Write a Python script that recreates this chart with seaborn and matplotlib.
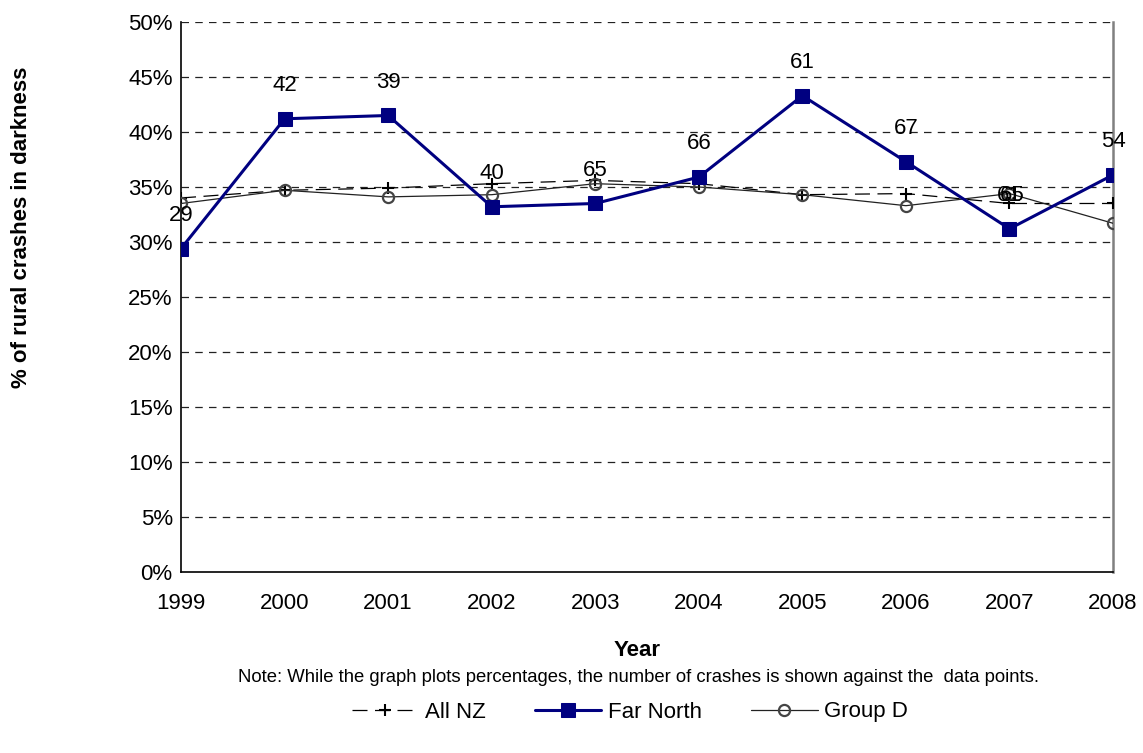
import matplotlib
matplotlib.use("Agg")
import matplotlib.pyplot as plt
import seaborn as sns
import pandas as pd
from matplotlib.ticker import PercentFormatter

years = [1999, 2000, 2001, 2002, 2003, 2004, 2005, 2006, 2007, 2008]
all_nz = [34.0, 34.7, 34.9, 35.3, 35.6, 35.3, 34.3, 34.4, 33.5, 33.5]
far_north = [29.4, 41.2, 41.5, 33.2, 33.5, 35.9, 43.3, 37.3, 31.2, 36.1]
group_d = [33.5, 34.7, 34.1, 34.3, 35.3, 35.0, 34.3, 33.3, 34.4, 31.7]
crash_counts = ["29", "42", "39", "40", "65", "66", "61", "67", "61", "54"]
extra_label_2007 = "65"

sns.set_theme(style="white")
plt.rcParams['font.family'] = ['Liberation Sans', 'DejaVu Sans']
plt.rcParams['text.color'] = 'black'
plt.rcParams['xtick.color'] = 'black'
plt.rcParams['ytick.color'] = 'black'
plt.rcParams['axes.labelcolor'] = 'black'

fig = plt.figure(figsize=(11.43, 7.53), dpi=100)
ax = fig.add_axes([0.1584, 0.2404, 0.8154, 0.7304])

df = pd.DataFrame({"Year": years, "All NZ": all_nz, "Far North": far_north, "Group D": group_d})

sns.lineplot(data=df, x="Year", y="All NZ", ax=ax, color="black", lw=0.9,
             dashes=False, linestyle=(0, (12, 6)), marker="+", markersize=9,
             markeredgewidth=1.5, markeredgecolor="black", label="All NZ", zorder=3)
sns.lineplot(data=df, x="Year", y="Group D", ax=ax, color="#222222", lw=0.9,
             marker="o", markersize=8, markerfacecolor="none",
             markeredgecolor="#444444", markeredgewidth=1.6, label="Group D", zorder=3)
sns.lineplot(data=df, x="Year", y="Far North", ax=ax, color="#000080", lw=2.2,
             marker="s", markersize=10, markeredgecolor="#000080", label="Far North", zorder=4)

for x, y, t in zip(years, far_north, crash_counts):
    ax.annotate(t, (x, y), xytext=(0, 24), textcoords="offset points",
                ha="center", va="center", fontsize=16, color="black", zorder=5)
ax.annotate(extra_label_2007, (years[8], far_north[8]), xytext=(2, 24), textcoords="offset points",
            ha="center", va="center", fontsize=16, color="black", zorder=5)

ax.set_xlim(1999, 2008)
ax.set_ylim(0, 50)
ax.set_xticks(years)
ax.set_xticklabels([str(y) for y in years], fontsize=16)
ax.set_yticks(range(0, 51, 5))
ax.yaxis.set_major_formatter(PercentFormatter(decimals=0))
ax.tick_params(axis='y', labelsize=16, length=8, direction='inout', width=1, color='black',
               labelcolor='black', pad=2)
ax.tick_params(axis='x', length=7, direction='out', width=1, color='black', labelcolor='black', pad=8)
for v in range(5, 51, 5):
    ax.axhline(v, color="#222222", lw=0.9, linestyle=(0, (6, 5)), zorder=1)

for s in ["left", "bottom"]:
    ax.spines[s].set_color("black")
    ax.spines[s].set_linewidth(1.2)
ax.spines["right"].set_color("#808080")
ax.spines["right"].set_linewidth(1.8)
ax.spines["top"].set_visible(False)

ax.set_xlabel("")
ax.set_ylabel("")
fig.text(637 / 1143, 1 - 650 / 753, "Year", ha="center", va="center",
         fontsize=16, fontweight="bold", color="black")
fig.text(22 / 1143, 1 - 227 / 753, "% of rural crashes in darkness", ha="center", va="center",
         rotation=90, fontsize=16, fontweight="bold", color="black")

fig.text(639 / 1143, 1 - 678 / 753, "Note: While the graph plots percentages, the number of crashes is shown against the  data points.",
         ha="center", va="center", fontsize=13.3, color="black")

handles, labels = ax.get_legend_handles_labels()
order = [labels.index(n) for n in ["All NZ", "Far North", "Group D"]]
leg = fig.legend([handles[i] for i in order], [labels[i] for i in order],
                 loc="center", bbox_to_anchor=(630 / 1143, 1 - 712 / 753), ncol=3, frameon=False,
                 fontsize=16, handlelength=3.0, columnspacing=2.2, handletextpad=0.3,
                 labelcolor="black")
ax.get_legend().remove()

fig.savefig("out.png", dpi=100)
